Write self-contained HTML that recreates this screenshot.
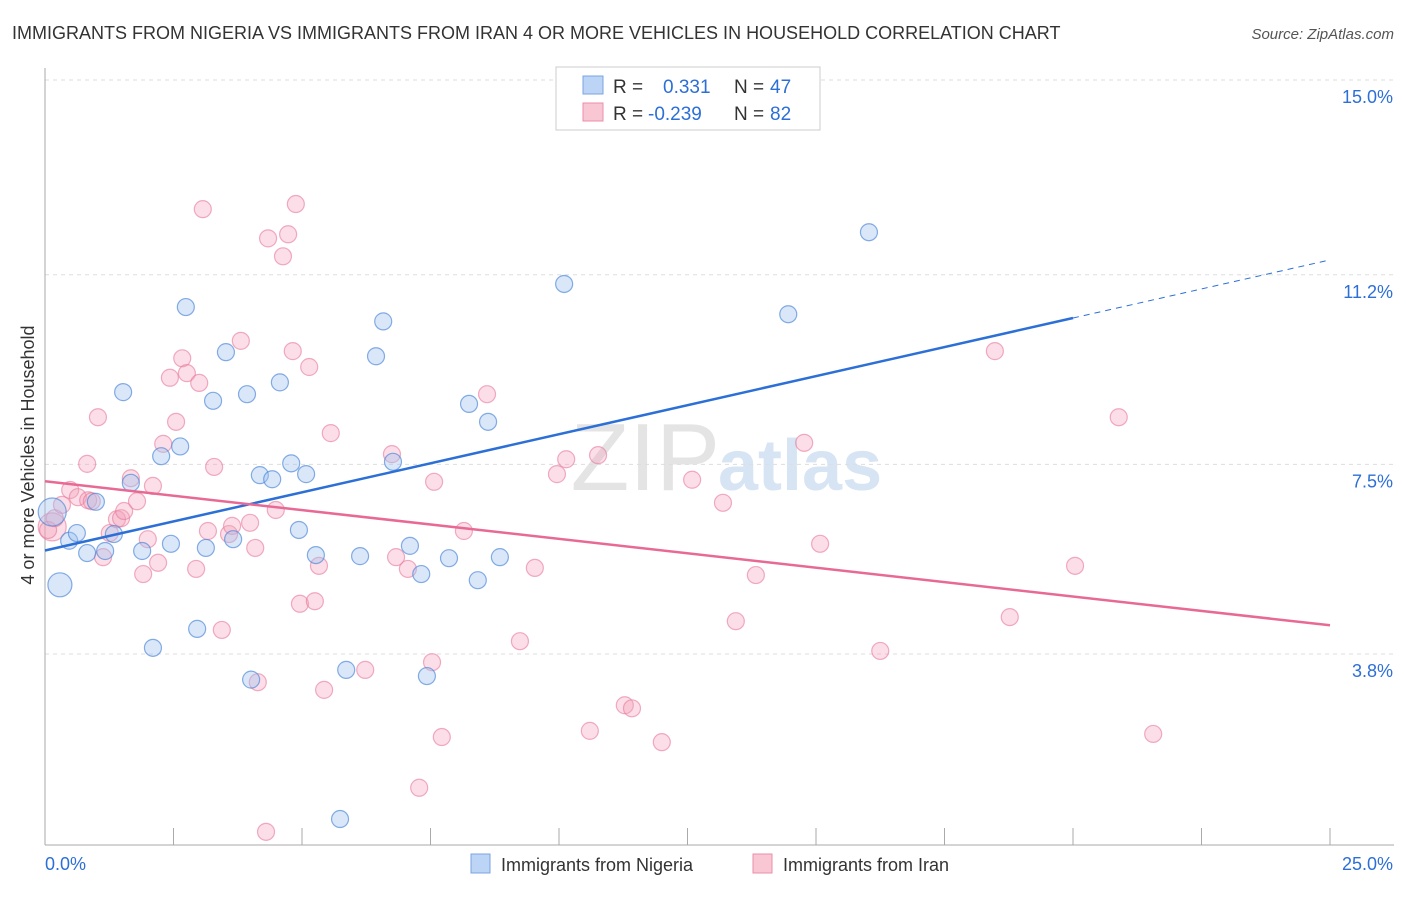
<!DOCTYPE html>
<html><head><meta charset="utf-8"><style>
body{margin:0;background:#fff;font-family:"Liberation Sans",sans-serif;}
svg text{font-family:"Liberation Sans",sans-serif;}
</style></head><body>
<svg id="chart" width="1406" height="892">
<text x="12" y="39" font-size="18" fill="#333">IMMIGRANTS FROM NIGERIA VS IMMIGRANTS FROM IRAN 4 OR MORE VEHICLES IN HOUSEHOLD CORRELATION CHART</text>
<text x="1394" y="39" font-size="15" fill="#555" text-anchor="end" font-style="italic">Source: ZipAtlas.com</text>
<text x="720" y="490" font-size="96" fill="#e4e4e4" font-family="Liberation Serif" text-anchor="end">ZIP</text>
<text x="718" y="490" font-size="72" fill="#d6e4f4" font-weight="bold">atlas</text>
<g id="grid"></g>
<g id="axes"></g>
<g id="pts"></g>
<g id="lines"></g>
<text transform="translate(34,455) rotate(-90)" font-size="18" fill="#333" text-anchor="middle">4 or more Vehicles in Household</text>
<g>
<rect x="556" y="67" width="264" height="63" fill="#fff" stroke="#ccc"/>
<rect x="583" y="76" width="20" height="18" fill="#bcd4f5" stroke="#7aa5e0"/>
<rect x="583" y="103" width="20" height="18" fill="#f9c6d4" stroke="#eb8eaa"/>
<text x="613" y="93" font-size="19" fill="#333">R =</text><text x="663" y="93" font-size="19" fill="#2c6fd6">0.331</text>
<text x="734" y="93" font-size="19" fill="#333">N =</text><text x="770" y="93" font-size="19" fill="#2c6fd6">47</text>
<text x="613" y="120" font-size="19" fill="#333">R =</text><text x="648" y="120" font-size="19" fill="#2c6fd6">-0.239</text>
<text x="734" y="120" font-size="19" fill="#333">N =</text><text x="770" y="120" font-size="19" fill="#2c6fd6">82</text>
</g>
<g>
<rect x="471" y="854" width="19" height="19" fill="#bcd4f5" stroke="#7aa5e0"/>
<text x="501" y="871" font-size="18" fill="#333">Immigrants from Nigeria</text>
<rect x="753" y="854" width="19" height="19" fill="#f9c6d4" stroke="#eb8eaa"/>
<text x="783" y="871" font-size="18" fill="#333">Immigrants from Iran</text>
</g>
</svg>
<script>
const yTicks=[3.8,7.5,11.2,15.0];
const yTickLabels=["3.8%","7.5%","11.2%","15.0%"];
const xTickLabels=["0.0%","25.0%"];
const nigeriaX=[0.14,0.29,0.47,0.62,0.82,0.99,1.17,1.34,1.52,1.67,1.89,2.10,2.26,2.45,2.63,2.74,2.96,3.13,3.27,3.52,3.66,3.93,4.01,4.18,4.42,4.57,4.79,4.94,5.08,5.27,5.74,5.86,6.13,6.44,6.58,6.77,7.10,7.32,7.43,7.86,8.25,8.42,8.62,8.85,10.10,14.46,16.03];
const nigeriaY=[6.57,5.15,6.01,6.16,5.77,6.77,5.81,6.14,8.91,7.14,5.81,3.92,7.66,5.95,7.85,10.57,4.29,5.87,8.74,9.69,6.04,8.87,3.30,7.29,7.21,9.10,7.52,6.22,7.31,5.73,0.58,3.49,5.71,9.61,10.29,7.55,5.91,5.36,3.37,5.67,8.68,5.24,8.33,5.69,11.02,10.43,12.03];
const iranX=[0.14,0.06,0.19,0.33,0.49,0.64,0.82,0.84,0.91,1.03,1.13,1.26,1.40,1.48,1.54,1.67,1.79,1.91,2.00,2.10,2.20,2.30,2.43,2.55,2.67,2.76,2.94,3.00,3.07,3.17,3.29,3.44,3.58,3.64,3.81,3.99,4.09,4.14,4.30,4.34,4.49,4.63,4.73,4.82,4.88,4.96,5.14,5.25,5.33,5.43,5.56,6.23,6.75,6.83,7.06,7.28,7.53,7.57,7.72,8.15,8.60,9.24,9.53,9.96,10.14,10.60,10.76,11.28,11.42,12.00,12.59,13.19,13.44,13.83,14.77,15.08,16.25,18.48,18.77,20.04,20.89,21.56];
const iranY=[6.28,6.22,6.45,6.71,7.00,6.86,7.51,6.80,6.78,8.42,5.69,6.16,6.43,6.45,6.59,7.23,6.78,5.36,6.04,7.08,5.58,7.90,9.19,8.33,9.57,9.28,5.46,9.09,12.48,6.20,7.45,4.27,6.14,6.30,9.91,6.36,5.87,3.25,0.33,11.91,6.61,11.56,11.99,9.71,12.58,4.78,9.40,4.83,5.52,3.10,8.11,3.49,7.70,5.69,5.46,1.19,3.64,7.16,2.18,6.20,8.87,4.05,5.48,7.31,7.60,2.30,7.68,2.80,2.74,2.08,7.20,6.75,4.44,5.34,7.92,5.95,3.86,9.71,4.52,5.52,8.42,2.24];
const nigeriaTrend=[5.82,11.49];
const iranTrend=[7.17,4.36];
const NS="http://www.w3.org/2000/svg";
const X=v=>45+v*51.4;
const Y=v=>848.75-v*51.25;
function mk(t,a,p){const e=document.createElementNS(NS,t);for(const k in a)e.setAttribute(k,a[k]);p.appendChild(e);return e;}
const grid=document.getElementById('grid'),axes=document.getElementById('axes'),pts=document.getElementById('pts'),lines=document.getElementById('lines');
yTicks.forEach((t,i)=>{
 const g=mk('line',{x1:45,x2:1394,y1:Y(t),y2:Y(t),stroke:'#ddd','stroke-dasharray':'4,4'},grid);
 
 
 const l=mk('text',{x:1393,y:Y(t)+23,'font-size':18,fill:'#2c6fd6','text-anchor':'end'},axes);
 l.textContent=yTickLabels[i];
 
 
});
const ax=mk('line',{x1:45,x2:1394,y1:845,y2:845,stroke:'#aaa'},axes);


const ay=mk('line',{x1:45,x2:45,y1:68,y2:845,stroke:'#aaa'},axes);


for(let i=0;i<=10;i++){
 const t=mk('line',{x1:X(i*2.5),x2:X(i*2.5),y1:828,y2:845,stroke:'#aaa'},axes);
 
 
}
[[0,45,'start'],[25,1393,'end']].forEach((d,i)=>{
 const l=mk('text',{x:d[1],y:870,'font-size':18,fill:'#2c6fd6','text-anchor':d[2]},axes);
 l.textContent=xTickLabels[i];
 
 
});
iranX.forEach((x,i)=>{
 const c=mk('circle',{cx:X(x),cy:Y(iranY[i]),r:i==0?14:8.5,fill:'rgba(244,160,185,0.35)',stroke:'rgba(232,120,155,0.6)','stroke-width':1.2},pts);
 
 
});
nigeriaX.forEach((x,i)=>{
 const c=mk('circle',{cx:X(x),cy:Y(nigeriaY[i]),r:i==0?14:(i==1?12:8.5),fill:'rgba(160,195,240,0.4)',stroke:'rgba(70,130,215,0.65)','stroke-width':1.2},pts);
 
 
});
const nAt=x=>nigeriaTrend[0]+(nigeriaTrend[1]-nigeriaTrend[0])*x/25;
const bl=mk('line',{x1:X(0),y1:Y(nAt(0)),x2:X(20),y2:Y(nAt(20)),stroke:'#2c6fd6','stroke-width':2.5},lines);


const bd=mk('line',{x1:X(20),y1:Y(nAt(20)),x2:X(25),y2:Y(nAt(25)),stroke:'#2c6fd6','stroke-width':1,'stroke-dasharray':'6,5'},lines);


const pl=mk('line',{x1:X(0),y1:Y(iranTrend[0]),x2:X(25),y2:Y(iranTrend[1]),stroke:'#e86a94','stroke-width':2.5},lines);


</script>
</body></html>
